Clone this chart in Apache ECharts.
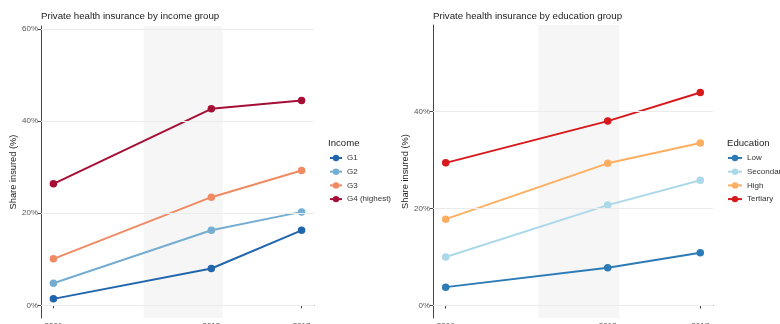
<!DOCTYPE html>
<html><head><meta charset="utf-8">
<script src="https://cdn.jsdelivr.net/npm/echarts@6/dist/echarts.min.js"></script>
<style>html,body{margin:0;padding:0;background:#fff}#c{width:780px;height:324px}</style>
</head><body><div id="c"></div>
<script>
const years = [2006, 2013, 2017];
const band = [2010, 2013.5];
const incomeNames = ['G1', 'G2', 'G3', 'G4 (highest)'];
const incomeG1 = [1.4, 8.0, 16.3];
const incomeG2 = [4.8, 16.3, 20.3];
const incomeG3 = [10.1, 23.5, 29.3];
const incomeG4 = [26.4, 42.7, 44.5];
const eduNames = ['Low', 'Secondary', 'High', 'Tertiary'];
const eduLow = [3.8, 7.8, 10.9];
const eduSecondary = [10.0, 20.7, 25.8];
const eduHigh = [17.8, 29.3, 33.5];
const eduTertiary = [29.4, 38.0, 43.9];
const leftTicks = [0, 20, 40, 60];
const rightTicks = [0, 20, 40];

const incomeColors = ['#2166ac', '#74add1', '#ef8a62', '#a50f35'];
const eduColors = ['#2c7bb6', '#abd9e9', '#fdae61', '#d7191c'];
const FONT = 'Liberation Sans, Arial, sans-serif';

function pairs(vals) { return years.map((y, i) => [y, vals[i]]); }

function mkSeries(name, vals, color, idx) {
  return {
    type: 'line', name, data: pairs(vals), xAxisIndex: idx, yAxisIndex: idx,
    symbol: 'circle', symbolSize: 7.5, z: 3,
    lineStyle: { color, width: 2 }, itemStyle: { color },
    emphasis: { disabled: true }, animation: false
  };
}
function bgSeries(idx, ticks) {
  return {
    type: 'line', data: [], xAxisIndex: idx, yAxisIndex: idx, z: 1, silent: true, animation: false,
    markArea: { silent: true, itemStyle: { color: '#f6f6f6' }, data: [[{ xAxis: band[0] }, { xAxis: band[1] }]] },
    markLine: { silent: true, symbol: 'none', label: { show: false },
      lineStyle: { color: '#ebebeb', type: 'solid', width: 1 },
      data: ticks.map(t => ({ yAxis: t })) }
  };
}
function xAx(idx) {
  return {
    type: 'value', gridIndex: idx, min: 2005.45, max: 2017.55,
    axisLine: { show: true, lineStyle: { color: '#444', width: 1 } },
    axisTick: { show: true, length: 3, lineStyle: { color: '#444' }, customValues: years },
    axisLabel: { show: true, fontSize: 8, color: '#555', margin: 4, fontFamily: FONT, customValues: years, formatter: v => String(v) },
    splitLine: { show: false }
  };
}
function yAx(idx, min, max, ticks) {
  return {
    type: 'value', gridIndex: idx, min, max,
    name: 'Share insured (%)', nameLocation: 'middle', nameGap: 23,
    nameTextStyle: { fontSize: 9.3, color: '#222', fontFamily: FONT },
    axisLine: { show: true, lineStyle: { color: '#444', width: 1 } },
    axisTick: { show: true, length: 3, lineStyle: { color: '#444' }, customValues: ticks },
    axisLabel: { show: true, fontSize: 8, color: '#555', margin: 3, fontFamily: FONT, customValues: ticks, formatter: v => v + '%' },
    splitLine: { show: false }
  };
}

const chart = echarts.init(document.getElementById('c'), null, { renderer: 'canvas' });
chart.setOption({
  animation: false,
  backgroundColor: '#fff',
  textStyle: { fontFamily: FONT },
  title: [
    { text: 'Private health insurance by income group', left: 36, top: 6, textStyle: { fontSize: 9.7, fontWeight: 'normal', color: '#222', fontFamily: FONT } },
    { text: 'Private health insurance by education group', left: 428, top: 6, textStyle: { fontSize: 9.7, fontWeight: 'normal', color: '#222', fontFamily: FONT } },
    { text: 'Income', left: 323, top: 133, textStyle: { fontSize: 9.6, fontWeight: 'normal', color: '#222', fontFamily: FONT } },
    { text: 'Education', left: 722, top: 133, textStyle: { fontSize: 9.6, fontWeight: 'normal', color: '#222', fontFamily: FONT } }
  ],
  grid: [
    { left: 41, top: 26, width: 273, height: 292, outerBoundsMode: 'none', containLabel: false },
    { left: 433, top: 25, width: 280, height: 293, outerBoundsMode: 'none', containLabel: false }
  ],
  xAxis: [xAx(0), xAx(1)],
  yAxis: [yAx(0, -2.76, 60.7, leftTicks), yAx(1, -2.56, 57.8, rightTicks)],
  legend: [
    { data: incomeNames, orient: 'vertical', left: 324, top: 149, itemWidth: 12, itemHeight: 8, itemGap: 5.7,
      textStyle: { fontSize: 8, color: '#333', fontFamily: FONT }, selectedMode: false },
    { data: eduNames, orient: 'vertical', left: 722, top: 149, itemWidth: 14, itemHeight: 8, itemGap: 5.7,
      textStyle: { fontSize: 8, color: '#333', fontFamily: FONT }, selectedMode: false }
  ],
  series: [
    bgSeries(0, leftTicks),
    bgSeries(1, rightTicks),
    mkSeries(incomeNames[0], incomeG1, incomeColors[0], 0),
    mkSeries(incomeNames[1], incomeG2, incomeColors[1], 0),
    mkSeries(incomeNames[2], incomeG3, incomeColors[2], 0),
    mkSeries(incomeNames[3], incomeG4, incomeColors[3], 0),
    mkSeries(eduNames[0], eduLow, eduColors[0], 1),
    mkSeries(eduNames[1], eduSecondary, eduColors[1], 1),
    mkSeries(eduNames[2], eduHigh, eduColors[2], 1),
    mkSeries(eduNames[3], eduTertiary, eduColors[3], 1)
  ]
});
</script></body></html>
